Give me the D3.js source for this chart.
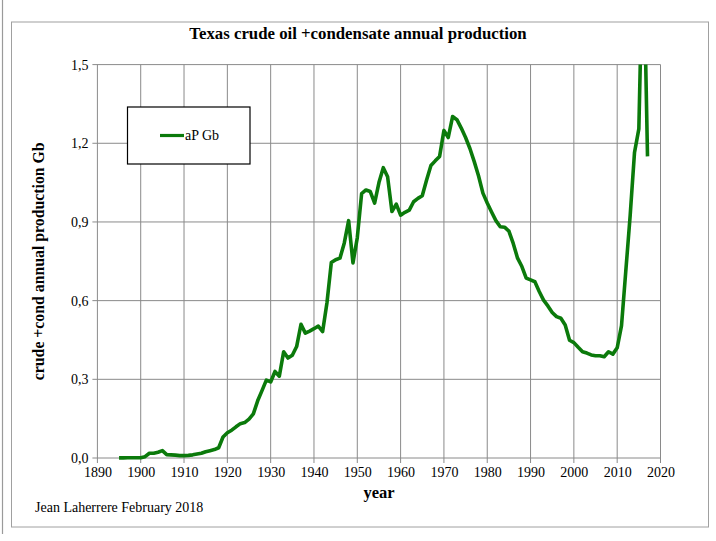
<!DOCTYPE html>
<html>
<head>
<meta charset="utf-8">
<script src="https://cdn.jsdelivr.net/npm/d3@7"></script>
<style>
  body { margin: 0; background: #fff; }
  svg { display: block; }
  text { font-family: "Liberation Serif", "Times New Roman", serif; fill: #000; }
</style>
</head>
<body>
<svg id="chart" width="716" height="541"></svg>
<script>
// Texas crude + condensate, annual production in Gb
var years = [
  1895, 1896, 1897, 1898, 1899,
  1900, 1901, 1902, 1903, 1904, 1905, 1906, 1907, 1908, 1909,
  1910, 1911, 1912, 1913, 1914, 1915, 1916, 1917, 1918, 1919,
  1920, 1921, 1922, 1923, 1924, 1925, 1926, 1927, 1928, 1929,
  1930, 1931, 1932, 1933, 1934, 1935, 1936, 1937, 1938, 1939,
  1940, 1941, 1942, 1943, 1944, 1945, 1946, 1947, 1948, 1949,
  1950, 1951, 1952, 1953, 1954, 1955, 1956, 1957, 1958, 1959,
  1960, 1961, 1962, 1963, 1964, 1965, 1966, 1967, 1968, 1969,
  1970, 1971, 1972, 1973, 1974, 1975, 1976, 1977, 1978, 1979,
  1980, 1981, 1982, 1983, 1984, 1985, 1986, 1987, 1988, 1989,
  1990, 1991, 1992, 1993, 1994, 1995, 1996, 1997, 1998, 1999,
  2000, 2001, 2002, 2003, 2004, 2005, 2006, 2007, 2008, 2009,
  2010, 2011, 2012, 2013, 2014, 2015, 2016, 2017
];
var aPGb = [
  0.0005, 0.0005, 0.0007, 0.0008, 0.0009,
  0.001, 0.005, 0.018, 0.018, 0.022, 0.028, 0.013, 0.012, 0.011, 0.009,
  0.009, 0.010, 0.012, 0.015, 0.018, 0.024, 0.028, 0.032, 0.039, 0.080,
  0.096, 0.106, 0.119, 0.131, 0.135, 0.148, 0.168, 0.218, 0.257, 0.297,
  0.290, 0.330, 0.312, 0.405, 0.381, 0.392, 0.425, 0.510, 0.476, 0.484,
  0.493, 0.503, 0.482, 0.592, 0.745, 0.756, 0.762, 0.820, 0.905, 0.744,
  0.840, 1.008, 1.022, 1.016, 0.972, 1.050, 1.107, 1.072, 0.940, 0.968,
  0.926, 0.937, 0.945, 0.977, 0.990, 1.000, 1.060, 1.115, 1.133, 1.150,
  1.249, 1.222, 1.302, 1.290, 1.258, 1.222, 1.180, 1.130, 1.075, 1.010,
  0.972, 0.938, 0.905, 0.882, 0.880, 0.865, 0.818, 0.762, 0.730, 0.686,
  0.679, 0.672, 0.635, 0.602, 0.580, 0.555, 0.539, 0.533, 0.507, 0.449,
  0.440, 0.422, 0.405, 0.400, 0.393, 0.390, 0.390, 0.386, 0.405, 0.396,
  0.420, 0.505, 0.715, 0.925, 1.165, 1.255, 2.000, 1.150
];
var xTicks = [1890, 1900, 1910, 1920, 1930, 1940, 1950, 1960, 1970, 1980, 1990, 2000, 2010, 2020];
var yTicks = [0, 0.3, 0.6, 0.9, 1.2, 1.5];

var svg = d3.select("#chart");
var gridColor = "#8a8a8a";
var lineColor = "#0b7a0b";

var plot = { left: 97.4, right: 660.5, top: 64.6, bottom: 458 };

var x = d3.scaleLinear().domain([1890, 2020]).range([plot.left, plot.right]);
var y = d3.scaleLinear().domain([0, 1.5]).range([plot.bottom, plot.top]);

// stray border of the neighbouring picture on the far left
svg.append("line")
    .attr("x1", 2.5).attr("x2", 2.5)
    .attr("y1", 0).attr("y2", 534)
    .attr("stroke", "#9a9a9a").attr("stroke-width", 1.2);

// chart frame
svg.append("rect")
    .attr("x", 11.5).attr("y", 22)
    .attr("width", 697).attr("height", 505)
    .attr("fill", "#fff")
    .attr("stroke", "#a0a0a0").attr("stroke-width", 1);

svg.append("text")
    .attr("x", 358).attr("y", 39)
    .attr("text-anchor", "middle")
    .style("font-size", "16.8px").style("font-weight", "bold")
    .text("Texas crude oil +condensate annual production");

// grid
var grid = svg.append("g");
grid.selectAll(".vg").data(xTicks).enter().append("line")
    .attr("x1", function(d) { return x(d); }).attr("x2", function(d) { return x(d); })
    .attr("y1", plot.top).attr("y2", plot.bottom + 5)
    .attr("stroke", gridColor).attr("stroke-width", 1);
grid.selectAll(".hg").data(yTicks).enter().append("line")
    .attr("x1", plot.left - 5).attr("x2", plot.right)
    .attr("y1", function(d) { return y(d); }).attr("y2", function(d) { return y(d); })
    .attr("stroke", gridColor).attr("stroke-width", 1);

// axes (labels only, the lines come from the grid)
var fmt = function(d) { return d3.format(".1f")(d).replace(".", ","); };
var yAxis = svg.append("g")
    .attr("transform", "translate(" + plot.left + ",0)")
    .call(d3.axisLeft(y).tickValues(yTicks).tickFormat(fmt).tickSize(0).tickPadding(9));
yAxis.select(".domain").remove();
yAxis.selectAll("text")
    .style("font-family", "'Liberation Serif', serif")
    .style("font-size", "14px");

var xAxis = svg.append("g")
    .attr("transform", "translate(0," + plot.bottom + ")")
    .call(d3.axisBottom(x).tickValues(xTicks).tickFormat(d3.format("d")).tickSize(0).tickPadding(9));
xAxis.select(".domain").remove();
xAxis.selectAll("text")
    .style("font-family", "'Liberation Serif', serif")
    .style("font-size", "14px");

svg.append("text")
    .attr("transform", "translate(44," + ((plot.top + plot.bottom) / 2) + ") rotate(-90)")
    .attr("text-anchor", "middle")
    .style("font-size", "15.8px").style("font-weight", "bold")
    .text("crude +cond annual production Gb");

svg.append("text")
    .attr("x", 379).attr("y", 498)
    .attr("text-anchor", "middle")
    .style("font-size", "16.5px").style("font-weight", "bold")
    .text("year");

svg.append("text")
    .attr("x", 35).attr("y", 512)
    .style("font-size", "14px")
    .text("Jean Laherrere February 2018");

// the curve, clipped to the plot area as the spreadsheet does
svg.append("clipPath").attr("id", "plotClip")
  .append("rect")
    .attr("x", plot.left).attr("y", plot.top)
    .attr("width", plot.right - plot.left).attr("height", plot.bottom - plot.top + 4);

var pts = years.map(function(yr, i) { return [yr, aPGb[i]]; });
var line = d3.line()
    .x(function(d) { return x(d[0]); })
    .y(function(d) { return y(d[1]); });

svg.append("path")
    .datum(pts)
    .attr("clip-path", "url(#plotClip)")
    .attr("d", line)
    .attr("fill", "none")
    .attr("stroke", lineColor)
    .attr("stroke-width", 3.6)
    .attr("stroke-linejoin", "round");

// legend
var lg = svg.append("g");
lg.append("rect")
    .attr("x", 127.5).attr("y", 107)
    .attr("width", 122.5).attr("height", 57)
    .attr("fill", "#fff")
    .attr("stroke", "#000").attr("stroke-width", 1.2);
lg.append("line")
    .attr("x1", 160).attr("x2", 184)
    .attr("y1", 135.5).attr("y2", 135.5)
    .attr("stroke", lineColor).attr("stroke-width", 3.2);
lg.append("text")
    .attr("x", 185).attr("y", 140)
    .style("font-size", "14px")
    .text("aP Gb");
</script>
</body>
</html>
